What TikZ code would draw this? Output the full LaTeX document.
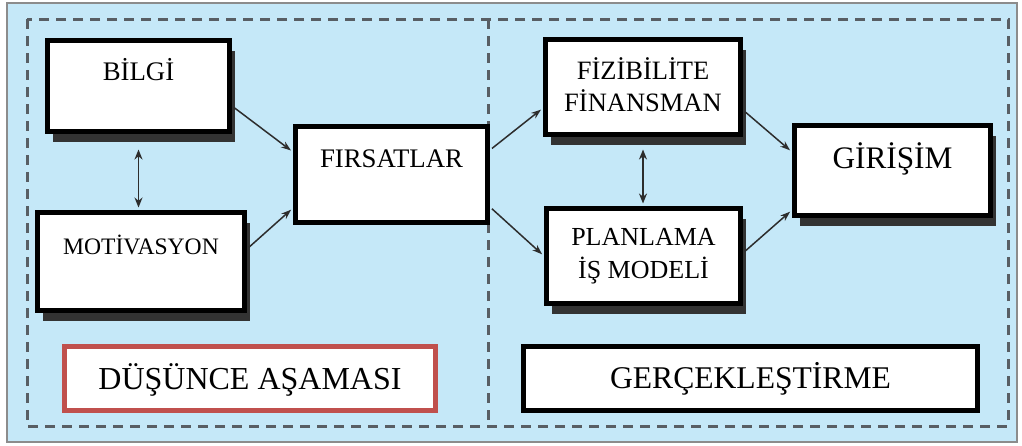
\documentclass[tikz,border=0pt]{standalone}
\usepackage{fontspec}
\setmainfont{Liberation Serif}
\usetikzlibrary{arrows.meta,shadows}
\definecolor{zemin}{RGB}{197,232,248}
\definecolor{cerceve}{RGB}{140,140,140}
\definecolor{kesik}{RGB}{88,94,100}
\definecolor{kirmizi}{RGB}{192,80,77}
\definecolor{okrengi}{RGB}{45,45,45}
\tikzset{
  kutu/.style={draw=black, line width=5pt, fill=white, inner sep=0pt, align=center},
  golge/.style={drop shadow={shadow xshift=5pt, shadow yshift=-10pt, fill=black!80, opacity=1}},
  kesikcizgi/.style={draw=kesik, line width=3pt, dash pattern=on 10pt off 7pt},
  ok/.style={draw=okrengi, line width=1.5pt, -{Stealth[length=10pt,width=7pt]}, shorten >=2.5pt, shorten <=2.5pt},
  ciftok/.style={draw=okrengi, line width=1.8pt, {Stealth[length=10pt,width=8pt]}-{Stealth[length=10pt,width=8pt]}},
}

\begin{document}
\begin{tikzpicture}[x=1pt,y=-1pt]
\useasboundingbox (0,0) rectangle (1022,445);
\fill[white] (0,0) rectangle (1022,445);
\draw[cerceve, fill=zemin, line width=2pt] (7,3) rectangle (1017,442);
\draw[kesikcizgi] (27,19) rectangle (1008,426);
\draw[kesikcizgi] (488,19) -- (488,426);

% dusunce asamasi
\node[kutu, golge, minimum width=182pt, minimum height=91pt, font=\fontsize{26.8}{30}\selectfont, text height=0pt, text depth=10.3pt] (bilgi) at (138.5,86) {BİLGİ};
\node[kutu, golge, minimum width=207pt, minimum height=98pt, font=\fontsize{23.6}{28}\selectfont, text height=0pt, text depth=13.4pt] (motivasyon) at (141,261.5) {MOTİVASYON};
\node[kutu, minimum width=192pt, minimum height=96pt, font=\fontsize{26.8}{30}\selectfont, text height=0pt, text depth=13.3pt] (firsat) at (391.5,174.5) {FIRSATLAR};
\node[kutu, draw=kirmizi, minimum width=371pt, minimum height=64pt, font=\fontsize{32}{38}\selectfont, text height=21.2pt, text depth=0pt] (dusunce) at (250,378.5) {DÜŞÜNCE AŞAMASI};

% gerceklestirme
\node[kutu, golge, minimum width=195pt, minimum height=95pt, font=\fontsize{26.5}{32}\selectfont, text depth=4pt] (fizibilite) at (643,87) {FİZİBİLİTE\\FİNANSMAN};
\node[kutu, golge, minimum width=194pt, minimum height=95pt, font=\fontsize{26}{33}\selectfont] (planlama) at (643.5,256) {PLANLAMA\\İŞ MODELİ};
\node[kutu, golge, minimum width=196pt, minimum height=90pt, font=\fontsize{31.3}{36}\selectfont, text height=0pt, text depth=4.3pt] (girisim) at (892.5,170.5) {GİRİŞİM};
\node[kutu, line width=4.5pt, minimum width=454pt, minimum height=64pt, font=\fontsize{31.6}{36}\selectfont, text height=20.9pt, text depth=0pt] (gercek) at (750.5,378.5) {GERÇEKLEŞTİRME};

\draw[ok] ([yshift=-20pt]bilgi.east) -- ([yshift=22.5pt]firsat.west);
\draw[ok] ([yshift=12.5pt]motivasyon.east) -- ([yshift=-33.5pt]firsat.west);
\draw[ok] ([yshift=24.5pt]firsat.east) -- ([yshift=-21pt]fizibilite.west);
\draw[ok] ([yshift=-32.5pt]firsat.east) -- (planlama.west);
\draw[ok] ([yshift=-23pt]fizibilite.east) -- ([yshift=18.5pt]girisim.west);
\draw[ok] ([yshift=3pt]planlama.east) -- ([yshift=-39.5pt]girisim.west);
\draw[ciftok, shorten <=15.5pt, shorten >=2.5pt] (bilgi.south) -- (bilgi.south |- motivasyon.north);
\draw[ciftok, shorten <=12.5pt, shorten >=2.5pt] (fizibilite.south) -- (fizibilite.south |- planlama.north);
\end{tikzpicture}
\end{document}
